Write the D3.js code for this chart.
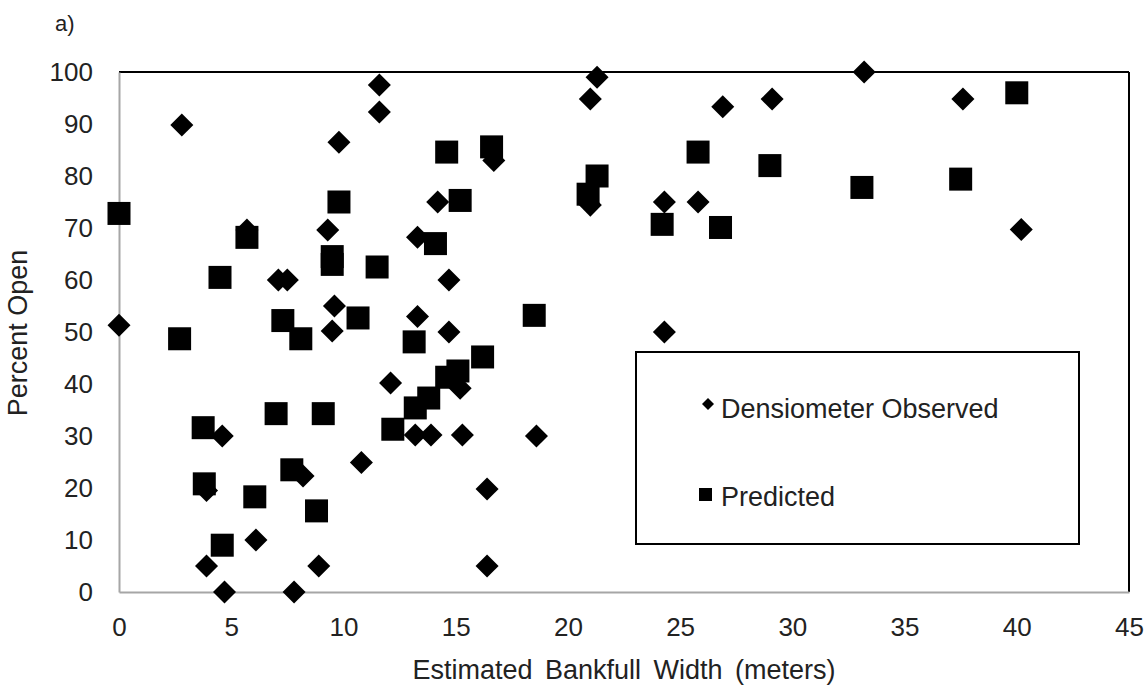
<!DOCTYPE html>
<html>
<head>
<meta charset="utf-8">
<script src="https://cdn.jsdelivr.net/npm/d3@7"></script>
<style>
  body { margin: 0; background: #fff; }
  text { font-family: Arial, "Liberation Sans", sans-serif; fill: #222; }
</style>
</head>
<body>
<svg id="chart"></svg>
<script>
// Densiometer Observed
const observedWidth = [0, 2.8, 5.7, 7.1, 7.5, 9.3, 9.8, 11.6, 11.6, 9.6, 9.5,
  21.3, 21, 26.9, 29.1, 16.7, 14.2, 21, 24.3, 25.8, 13.3, 14.7, 13.3, 14.7, 24.3,
  33.2, 37.6, 40.2,
  12.1, 4.6, 10.8, 8.2, 3.9, 6.1, 3.9, 8.9, 4.7, 7.8,
  15.2, 13.2, 13.9, 15.3, 18.6, 16.4, 16.4];
const observedOpen = [51.3, 89.8, 69.6, 60, 60, 69.6, 86.5, 97.5, 92.3, 55, 50.2,
  99, 94.8, 93.3, 94.8, 83, 75, 74.4, 75, 75, 68.2, 60, 53, 50, 50,
  100, 94.8, 69.7,
  40.2, 30, 24.9, 22.3, 19.5, 10, 5, 5, 0, 0,
  39.2, 30.2, 30.2, 30.2, 30, 19.8, 5];

// Predicted
const predictedWidth = [0, 9.8, 5.7, 4.5, 9.5, 9.5, 11.5, 7.3, 10.65, 2.7, 8.1,
  14.6, 16.6, 21.3, 20.9, 25.8, 29, 15.2, 14.1, 24.2, 26.8, 18.5, 13.15,
  33.1, 37.5, 40,
  3.75, 7, 9.1, 12.2, 3.8, 7.7, 6.05, 8.8, 4.6,
  16.2, 15.1, 14.6, 13.8, 13.2];
const predictedOpen = [72.8, 75, 68.2, 60.5, 64.5, 63, 62.5, 52.2, 52.7, 48.7, 48.7,
  84.6, 85.6, 80, 76.5, 84.6, 82, 75.3, 67, 70.7, 70.1, 53.2, 48.1,
  77.8, 79.4, 96,
  31.6, 34.3, 34.3, 31.3, 20.8, 23.5, 18.3, 15.6, 9,
  45.2, 42.5, 41.3, 37.3, 35.4];

const xTicks = [0, 5, 10, 15, 20, 25, 30, 35, 40, 45];
const yTicks = [0, 10, 20, 30, 40, 50, 60, 70, 80, 90, 100];
const seriesNames = ['Densiometer Observed', 'Predicted'];

const width = 1148;
const height = 685;
const plot = { left: 119, right: 1129, top: 72, bottom: 592 };

const svg = d3.select('#chart')
  .attr('width', width)
  .attr('height', height);

const x = d3.scaleLinear().domain([0, 45]).range([plot.left, plot.right]);
const y = d3.scaleLinear().domain([0, 100]).range([plot.bottom, plot.top]);

// plot area border: top/right black, axes grey
svg.append('line')
  .attr('x1', plot.left).attr('x2', plot.right)
  .attr('y1', plot.top).attr('y2', plot.top)
  .attr('stroke', '#000').attr('stroke-width', 2);
svg.append('line')
  .attr('x1', plot.right).attr('x2', plot.right)
  .attr('y1', plot.top).attr('y2', plot.bottom)
  .attr('stroke', '#000').attr('stroke-width', 2);

const xAxis = svg.append('g')
  .attr('transform', `translate(0,${plot.bottom})`)
  .call(d3.axisBottom(x).tickValues(xTicks).tickSize(0).tickPadding(26));
const yAxis = svg.append('g')
  .attr('transform', `translate(${plot.left},0)`)
  .call(d3.axisLeft(y).tickValues(yTicks).tickSize(0).tickPadding(26));

[xAxis, yAxis].forEach(ax => {
  ax.select('.domain').attr('stroke', '#a6a6a6').attr('stroke-width', 2);
  ax.selectAll('text')
    .style('font-family', 'Arial, "Liberation Sans", sans-serif')
    .style('font-size', '26px')
    .attr('fill', '#222');
});
xAxis.selectAll('text').attr('dy', '0.7em');

const diamond = d3.symbol().type(d3.symbolSquare).size(265);

svg.append('g')
  .selectAll('path')
  .data(observedWidth.map((w, i) => [w, observedOpen[i]]))
  .join('path')
  .attr('d', diamond)
  .attr('transform', d => `translate(${x(d[0])},${y(d[1])}) rotate(45)`)
  .attr('fill', '#000');

const sq = 23;
svg.append('g')
  .selectAll('rect')
  .data(predictedWidth.map((w, i) => [w, predictedOpen[i]]))
  .join('rect')
  .attr('x', d => x(d[0]) - sq / 2)
  .attr('y', d => y(d[1]) - sq / 2)
  .attr('width', sq)
  .attr('height', sq)
  .attr('fill', '#000');

// titles
svg.append('text')
  .attr('x', (plot.left + plot.right) / 2)
  .attr('y', 679)
  .attr('text-anchor', 'middle')
  .style('font-size', '27px')
  .style('word-spacing', '5px')
  .text('Estimated Bankfull Width (meters)');

svg.append('text')
  .attr('transform', 'translate(27,333) rotate(-90)')
  .attr('text-anchor', 'middle')
  .style('font-size', '27px')
  .text('Percent Open');

svg.append('text')
  .attr('x', 55)
  .attr('y', 31)
  .style('font-size', '22px')
  .text('a)');

// legend
const legend = svg.append('g');
legend.append('rect')
  .attr('x', 636).attr('y', 352)
  .attr('width', 443).attr('height', 192)
  .attr('fill', '#fff')
  .attr('stroke', '#000')
  .attr('stroke-width', 2);

legend.append('path')
  .attr('d', d3.symbol().type(d3.symbolSquare).size(72))
  .attr('transform', 'translate(708,404) rotate(45)')
  .attr('fill', '#000');
legend.append('rect')
  .attr('x', 699).attr('y', 488)
  .attr('width', 13).attr('height', 13)
  .attr('fill', '#000');

legend.selectAll('text.label')
  .data(seriesNames)
  .join('text')
  .attr('class', 'label')
  .attr('x', 721)
  .attr('y', (d, i) => i === 0 ? 418 : 506)
  .style('font-size', '27px')
  .text(d => d);
</script>
</body>
</html>
